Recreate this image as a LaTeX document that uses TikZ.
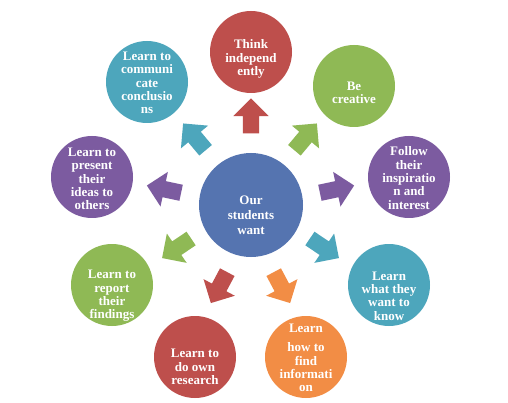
\documentclass[tikz,border=0pt]{standalone}
\usepackage{fontspec}
\setmainfont{Liberation Serif}
\usetikzlibrary{shapes.arrows}
\definecolor{cred}{HTML}{BE4F4C}
\definecolor{cteal}{HTML}{4DA6BC}
\definecolor{cgreen}{HTML}{8FB955}
\definecolor{cpurple}{HTML}{7C5BA0}
\definecolor{corange}{HTML}{F28D45}
\definecolor{cblue}{HTML}{5574B0}
\begin{document}
\begin{tikzpicture}[x=1pt,y=-1pt,
  bub/.style={circle, fill=#1, draw=none, inner sep=0pt, minimum size=82pt},
  txt/.style={text=white, font=\bfseries\fontsize{13}{13.3}\selectfont, align=center, inner sep=0pt},
  arr/.style={single arrow, fill=#1, draw=none, inner xsep=0pt, inner ysep=8pt,
    minimum height=35pt, single arrow head extend=9.5pt, single arrow tip angle=90},
]
\useasboundingbox[fill=white] (0,0) rectangle (508,403);

% centre
\node[bub=cblue, minimum size=104pt] (c0) at (251,205) {};
\node[txt, font=\bfseries\fontsize{13}{15}\selectfont] (l0) at ([yshift=-10pt]c0.center) {Our\\students\\want};

% outer circles
\node[bub=cred]    (c1) at (251,52)  {};
\node[bub=cgreen]  (c2) at (354,86)  {};
\node[bub=cpurple] (c3) at (409,177) {};
\node[bub=cteal]   (c4) at (389,285) {};
\node[bub=corange] (c5) at (306,357) {};
\node[bub=cred]    (c6) at (195,357) {};
\node[bub=cgreen]  (c7) at (112,285) {};
\node[bub=cpurple] (c8) at (92,177)  {};
\node[bub=cteal]   (c9) at (147,82)  {};

\node[txt] (l1) at ([yshift=-7pt]c1.center)  {Think\\independ\\ently};
\node[txt] (l2) at ([yshift=-7pt]c2.center)  {Be\\creative};
\node[txt] (l3) at ([yshift=-1pt]c3.center)  {Follow\\their\\inspiratio\\n and\\interest};
\node[txt] (l4) at ([yshift=-11pt]c4.center) {Learn\\what they\\want to\\know};
\node[txt] (l5) at ([yshift=-1pt]c5.center)  {Learn\\[6pt]how to\\find\\informati\\on};
\node[txt] (l6) at ([yshift=-10pt]c6.center) {Learn to\\do own\\research};
\node[txt] (l7) at ([yshift=-11pt]c7.center) {Learn to\\report\\their\\findings};
\node[txt] (l8) at ([yshift=-2pt]c8.center)  {Learn to\\present\\their\\ideas to\\others};
\node[txt] (l9) at ([yshift=-1pt]c9.center)  {Learn to\\communi\\cate\\conclusio\\ns};

% arrows
\node[arr=cred,    rotate=90]   (a1) at (251,120) {};
\node[arr=cgreen,  rotate=50]   (a2) at (303,140) {};
\node[arr=cpurple, rotate=12]   (a3) at (333,190) {};
\node[arr=cteal,   rotate=-34]  (a4) at (321,246) {};
\node[arr=corange, rotate=-62]  (a5) at (280,284) {};
\node[arr=cred,    rotate=-118] (a6) at (221,284) {};
\node[arr=cgreen,  rotate=-146] (a7) at (180,246) {};
\node[arr=cpurple, rotate=168]  (a8) at (168,190) {};
\node[arr=cteal,   rotate=130]  (a9) at (197,140) {};
\end{tikzpicture}
\end{document}
